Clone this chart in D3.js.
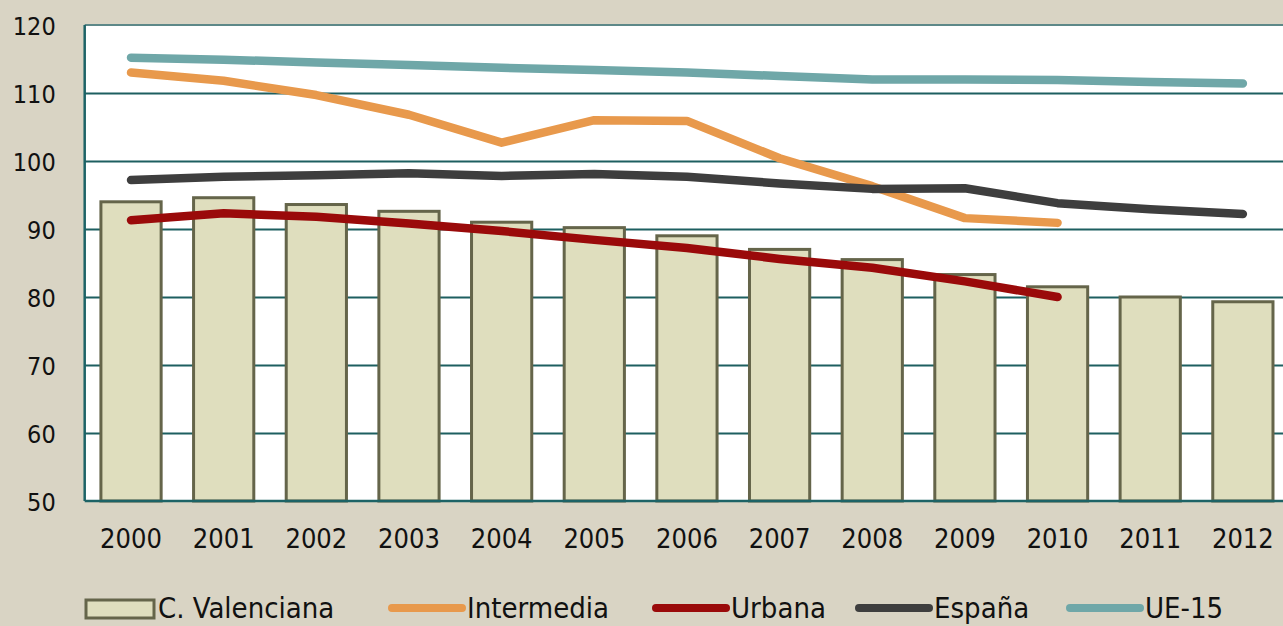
<!DOCTYPE html>
<html>
<head>
<meta charset="utf-8">
<script src="https://cdn.jsdelivr.net/npm/d3@7"></script>
<style>
    body { margin: 0; background: #d9d4c4; }
    svg { display: block; }
    text { font-family: "DejaVu Sans Condensed", "DejaVu Sans", Verdana, sans-serif; font-stretch: condensed; fill: #111; }
</style>
</head>
<body>
<svg id="drawing_region"></svg>
<script>
const years = ['2000','2001','2002','2003','2004','2005','2006','2007','2008','2009','2010','2011','2012'];
const valenciana = [94.0, 94.6, 93.6, 92.6, 91.0, 90.2, 89.0, 87.0, 85.5, 83.3, 81.5, 80.0, 79.3];
const intermedia = [113.0, 111.8, 109.7, 106.8, 102.7, 106.0, 105.9, 100.4, 96.3, 91.6, 90.9];
const urbana = [91.3, 92.3, 91.8, 90.8, 89.7, 88.4, 87.2, 85.6, 84.3, 82.3, 80.0];
const espana = [97.2, 97.7, 97.9, 98.2, 97.8, 98.1, 97.7, 96.7, 95.9, 96.0, 93.8, 92.9, 92.2];
const ue15 = [115.2, 114.9, 114.5, 114.1, 113.7, 113.4, 113.0, 112.5, 112.0, 112.0, 111.9, 111.6, 111.4];
const yTicks = [50, 60, 70, 80, 90, 100, 110, 120];

const lineSeries = [
    { name: 'Intermedia', values: intermedia, color: '#e8994c' },
    { name: 'Urbana', values: urbana, color: '#9a0a0a' },
    { name: 'España', values: espana, color: '#3e3e3e' },
    { name: 'UE-15', values: ue15, color: '#6fa7a8' }
];

var config = {
    width: 1283,
    height: 626,
    plot: { left: 84.7, top: 25, right: 1289.2, bottom: 501 }
};

const svg = d3.select('#drawing_region')
    .attr('width', config.width)
    .attr('height', config.height);

svg.append('rect')
    .attr('width', config.width).attr('height', config.height)
    .attr('fill', '#d9d4c4');

const xscale = d3.scaleBand()
    .domain(years)
    .range([config.plot.left, config.plot.right])
    .paddingInner(0.35)
    .paddingOuter(0.175);

const yscale = d3.scaleLinear()
    .domain([50, 120])
    .range([config.plot.bottom, config.plot.top]);

// plot background
svg.append('rect')
    .attr('x', config.plot.left).attr('y', config.plot.top)
    .attr('width', config.plot.right - config.plot.left)
    .attr('height', config.plot.bottom - config.plot.top)
    .attr('fill', '#ffffff');

// gridlines
const grid = svg.append('g')
    .attr('transform', `translate(${config.plot.left}, 0)`)
    .call(d3.axisLeft(yscale)
        .tickValues(yTicks.slice(1, -1))
        .tickSize(-(config.plot.right - config.plot.left))
        .tickFormat(''));
grid.select('.domain').remove();
grid.selectAll('line').attr('stroke', '#1d5f60').attr('stroke-width', 2);

// top frame line
svg.append('line')
    .attr('x1', config.plot.left).attr('x2', config.plot.right)
    .attr('y1', yscale(120)).attr('y2', yscale(120))
    .attr('stroke', '#5d8888').attr('stroke-width', 2);

// bars
svg.append('g').selectAll('rect')
    .data(valenciana)
    .join('rect')
    .attr('x', (d, i) => xscale(years[i]))
    .attr('y', d => yscale(d))
    .attr('width', xscale.bandwidth())
    .attr('height', d => yscale(50) - yscale(d))
    .attr('fill', '#dfdebe')
    .attr('stroke', '#65654a')
    .attr('stroke-width', 3);

// left and bottom frame
svg.append('line')
    .attr('x1', config.plot.left).attr('x2', config.plot.left)
    .attr('y1', yscale(120)).attr('y2', yscale(50))
    .attr('stroke', '#1d6366').attr('stroke-width', 2.5);
svg.append('line')
    .attr('x1', config.plot.left).attr('x2', config.plot.right)
    .attr('y1', yscale(50)).attr('y2', yscale(50))
    .attr('stroke', '#1d6366').attr('stroke-width', 2.5);

// lines
const line = d3.line()
    .x((d, i) => xscale(years[i]) + xscale.bandwidth() / 2)
    .y(d => yscale(d));

svg.append('g').selectAll('path')
    .data(lineSeries)
    .join('path')
    .attr('d', s => line(s.values))
    .attr('fill', 'none')
    .attr('stroke', s => s.color)
    .attr('stroke-width', 8.5)
    .attr('stroke-linecap', 'round')
    .attr('stroke-linejoin', 'round');

// y axis labels
const yaxis = svg.append('g')
    .attr('transform', `translate(${config.plot.left}, 0)`)
    .call(d3.axisLeft(yscale).tickValues(yTicks).tickSize(0).tickPadding(29));
yaxis.select('.domain').remove();
yaxis.attr('font-family', null).attr('font-size', null);
yaxis.selectAll('text')
    .attr('x', -29)
    .attr('dy', '0.36em')
    .attr('font-size', 25)
    .attr('fill', '#111');

// x axis labels
const xaxis = svg.append('g')
    .attr('transform', `translate(0, ${config.plot.bottom})`)
    .call(d3.axisBottom(xscale).tickSize(0).tickPadding(0));
xaxis.select('.domain').remove();
xaxis.attr('font-family', null).attr('font-size', null);
xaxis.selectAll('text')
    .attr('y', 47)
    .attr('dy', null)
    .attr('font-size', 27)
    .attr('fill', '#111');

// legend
const legendY = 608;
const legendBase = 618;
const legend = svg.append('g');
legend.append('rect')
    .attr('x', 86).attr('y', 600).attr('width', 68).attr('height', 18)
    .attr('fill', '#dfdebe').attr('stroke', '#65654a').attr('stroke-width', 3);
legend.append('text')
    .attr('x', 158).attr('y', legendBase)
    .attr('font-size', 29)
    .text('C. Valenciana');

const legendPos = [388, 652, 855, 1066];
lineSeries.forEach((s, i) => {
    legend.append('line')
        .attr('x1', legendPos[i] + 4).attr('x2', legendPos[i] + 74)
        .attr('y1', legendY).attr('y2', legendY)
        .attr('stroke', s.color).attr('stroke-width', 8)
        .attr('stroke-linecap', 'round');
    legend.append('text')
        .attr('x', legendPos[i] + 79).attr('y', legendBase)
        .attr('font-size', 29)
        .text(s.name);
});
</script>
</body>
</html>
